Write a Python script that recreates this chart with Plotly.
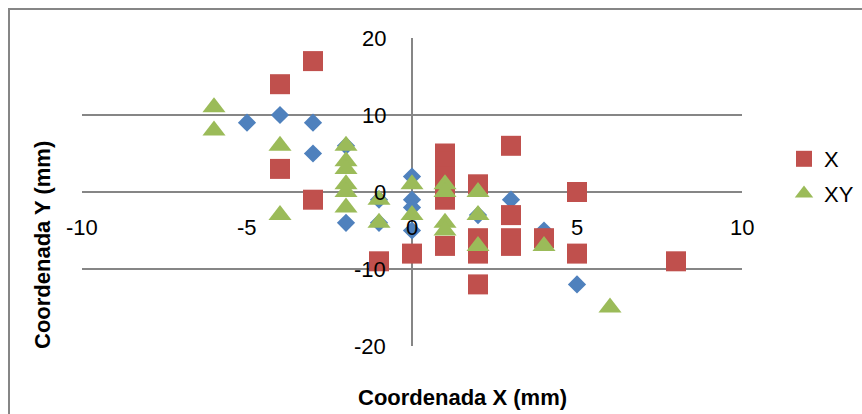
import plotly.graph_objects as go

# Data
blue_x = [-5, -4, -3, -3, -2, -2, -1, -1, 0, 0, 0, 0, 2, 3, 4, 5]
blue_y = [9, 10, 9, 5, 6, -4, -1, -4, 2, -1, -2, -5, -3, -1, -5, -12]

x_name = "X"
red_x = [-4, -3, -4, -3, -1, 0, 1, 1, 1, 1, 1, 1, 2, 2, 2, 2, 3, 3, 3, 3, 4, 5, 5, 8]
red_y = [14, 17, 3, -1, -9, -8, 5, 4, 2, 0, -1, -7, 1, -6, -8, -12, 6, -3, -6, -7, -6, 0, -8, -9]

xy_name = "XY"
green_x = [-6, -6, -4, -4, -2, -2, -2, -2, -2, -2, -1, -1, 0, 0, 1, 1, 1, 1, 2, 2, 2, 4, 6]
green_y = [11, 8, 6, -3, 6, 4, 3, 1, 0, -2, -1, -4, 1, -3, 1, 0, -4, -5, 0, -3, -7, -7, -15]

x_ticks = [-10, -5, 0, 5, 10]
y_ticks = [-20, -10, 0, 10, 20]

x_title = "Coordenada X (mm)"
y_title = "Coordenada Y (mm)"

BLUE = "#4F81BD"
RED = "#C0504D"
GREEN = "#9BBB59"
GRID = "#868686"
FONT = "Liberation Sans"

fig = go.Figure()
fig.add_trace(go.Scatter(x=blue_x, y=blue_y, mode="markers", showlegend=False,
                         marker=dict(symbol="diamond", size=14, color=BLUE, line=dict(width=0))))
fig.add_trace(go.Scatter(x=red_x, y=red_y, mode="markers", name=x_name, legendgroup="a",
                         marker=dict(symbol="square", size=20, color=RED, line=dict(width=0))))
fig.add_trace(go.Scatter(x=green_x, y=green_y, mode="markers", name=xy_name, legendgroup="b",
                         marker=dict(symbol="triangle-up", size=20, color=GREEN, line=dict(width=0))))

annotations = []
for t in x_ticks:
    annotations.append(dict(x=t, y=0, xref="x", yref="y", text=str(t), showarrow=False,
                            yshift=-35, xanchor="center", yanchor="middle",
                            font=dict(family=FONT, size=22, color="black")))
for t in y_ticks:
    annotations.append(dict(x=0, y=t, xref="x", yref="y", text=str(t), showarrow=False,
                            xshift=-24, xanchor="right", yanchor="middle",
                            font=dict(family=FONT, size=22, color="black")))

W, H = 862, 414
L, R, T, B = 82, 120, 38, 68
pw, ph = W - L - R, H - T - B

def px2paper_x(px):
    return (px - L) / pw

def px2paper_y(py):
    return (H - B - py) / ph

annotations.append(dict(x=px2paper_x(462), y=px2paper_y(397), xref="paper", yref="paper",
                        text="<b>%s</b>" % x_title, showarrow=False, xanchor="center", yanchor="middle",
                        font=dict(family=FONT, size=22, color="black")))
annotations.append(dict(x=px2paper_x(42), y=px2paper_y(245), xref="paper", yref="paper",
                        text="<b>%s</b>" % y_title, showarrow=False, textangle=-90,
                        xanchor="center", yanchor="middle",
                        font=dict(family=FONT, size=22, color="black")))

shapes = [dict(type="rect", xref="paper", yref="paper",
               x0=px2paper_x(9), y0=px2paper_y(430), x1=px2paper_x(880), y1=px2paper_y(9),
               line=dict(color=GRID, width=2), fillcolor="rgba(0,0,0,0)", layer="below")]

fig.update_layout(
    width=W, height=H,
    margin=dict(l=L, r=R, t=T, b=B, autoexpand=False),
    paper_bgcolor="white", plot_bgcolor="white",
    font=dict(family=FONT, size=22, color="black"),
    xaxis=dict(range=[-10, 10], showgrid=False, zeroline=True, zerolinecolor=GRID, zerolinewidth=2,
               showticklabels=False, ticks="", showline=False, fixedrange=True),
    yaxis=dict(range=[-20, 20], tickvals=y_ticks, showgrid=True, gridcolor=GRID, gridwidth=2,
               zeroline=True, zerolinecolor=GRID, zerolinewidth=2,
               showticklabels=False, ticks="", showline=False, fixedrange=True),
    legend=dict(x=px2paper_x(784), y=px2paper_y(138), xanchor="left", yanchor="top",
                font=dict(family=FONT, size=22, color="black"), tracegroupgap=3,
                bgcolor="rgba(0,0,0,0)", itemwidth=30),
    annotations=annotations,
    shapes=shapes,
)

fig.write_html("out.html")
